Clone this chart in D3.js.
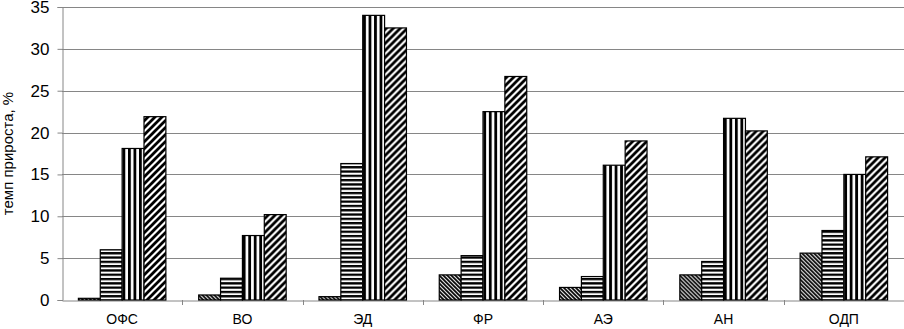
<!DOCTYPE html>
<html>
<head>
<meta charset="utf-8">
<script src="https://cdn.jsdelivr.net/npm/d3@7"></script>
<style>
  body { margin: 0; background: #fff; }
  svg { display: block; font-family: "Liberation Sans", Arial, sans-serif; }
</style>
</head>
<body>
<div id="chart"></div>
<script>
// Categories and series values
const categories = ["ОФС", "ВО", "ЭД", "ФР", "АЭ", "АН", "ОДП"];
const seriesNames = ["s1", "s2", "s3", "s4"];
const s1 = [0.2, 0.6, 0.4, 3.0, 1.5, 3.0, 5.6];
const s2 = [6.0, 2.6, 16.3, 5.3, 2.8, 4.6, 8.3];
const s3 = [18.1, 7.7, 34.0, 22.5, 16.1, 21.7, 15.0];
const s4 = [21.9, 10.2, 32.5, 26.7, 19.0, 20.2, 17.1];
const yTicks = [0, 5, 10, 15, 20, 25, 30, 35];
const yTitle = "темп прироста, %";

const seriesValues = [s1, s2, s3, s4];
const data = categories.map((c, i) => ({
    cat: c,
    vals: seriesNames.map((s, j) => ({ s: s, v: seriesValues[j][i] }))
}));

// Margins and dimensions
const W = 904, H = 329;
const margin = { top: 7, right: 0, bottom: 29, left: 62 };
const width = W - margin.left - margin.right;
const height = H - margin.top - margin.bottom;

const svgRoot = d3.select("#chart")
    .append("svg")
    .attr("width", W)
    .attr("height", H);

// Patterns for the four series
const defs = svgRoot.append("defs");

function pattern(id, w, h, draw) {
    const p = defs.append("pattern")
        .attr("id", id)
        .attr("patternUnits", "userSpaceOnUse")
        .attr("width", w)
        .attr("height", h);
    p.append("rect").attr("width", w).attr("height", h).attr("fill", "#fff");
    draw(p);
}

// s1: narrow "\\\" diagonal
pattern("p1", 4, 4, p => {
    p.append("path")
        .attr("d", "M-1,-1 L5,5 M-1,3 L1,5 M3,-1 L5,1")
        .attr("stroke", "#000").attr("stroke-width", 1.8);
});
// s2: horizontal stripes
pattern("p2", 4, 4.3, p => {
    p.append("rect").attr("x", 0).attr("y", 0).attr("width", 4).attr("height", 2.3).attr("fill", "#000");
});
// s3: vertical stripes
pattern("p3", 5.5, 4, p => {
    p.append("rect").attr("x", 0).attr("y", 0).attr("width", 2.8).attr("height", 4).attr("fill", "#000");
});
// s4: wide "///" diagonal
pattern("p4", 7, 7, p => {
    p.append("path")
        .attr("d", "M-1,8 L8,-1 M-1,1 L1,-1 M6,8 L8,6")
        .attr("stroke", "#000").attr("stroke-width", 2.8);
});

const fills = { s1: "url(#p1)", s2: "url(#p2)", s3: "url(#p3)", s4: "url(#p4)" };

const svg = svgRoot.append("g")
    .attr("transform", `translate(${margin.left},${margin.top})`);

// Scales
const x0 = d3.scaleBand()
    .domain(categories)
    .range([0, width])
    .padding(0);

const x1 = d3.scaleBand()
    .domain(seriesNames)
    .range([0, x0.bandwidth()])
    .paddingInner(0)
    .paddingOuter(0.75);

const y = d3.scaleLinear()
    .domain([0, 35])
    .range([height, 0]);

// Gridlines
svg.append("g")
    .selectAll("line")
    .data(yTicks.filter(d => d > 0))
    .enter()
    .append("line")
    .attr("x1", 0)
    .attr("x2", width)
    .attr("y1", d => Math.round(y(d)) + 0.5)
    .attr("y2", d => Math.round(y(d)) + 0.5)
    .attr("stroke", "#868686")
    .attr("stroke-width", 1);

// Y axis
const yAxis = svg.append("g")
    .attr("transform", "translate(0.5,0)")
    .call(d3.axisLeft(y).tickValues(yTicks).tickSize(5).tickPadding(8).tickFormat(d3.format("d")));
yAxis.select(".domain").attr("stroke", "#868686");
yAxis.selectAll(".tick line").attr("stroke", "#868686");
yAxis.selectAll("text")
    .attr("font-size", 17)
    .attr("font-family", "Liberation Sans, Arial, sans-serif")
    .attr("fill", "#000");

// X axis
const xAxis = svg.append("g")
    .attr("transform", `translate(0,${Math.round(height) + 0.5})`)
    .call(d3.axisBottom(x0).tickSize(0).tickPadding(14));
xAxis.select(".domain").attr("stroke", "#868686");
xAxis.selectAll("text")
    .attr("font-size", 14)
    .attr("font-family", "Liberation Sans, Arial, sans-serif")
    .attr("fill", "#000");

// category separators on x axis
svg.append("g")
    .selectAll("line")
    .data(categories.slice(1))
    .enter()
    .append("line")
    .attr("x1", d => Math.round(x0(d)) + 0.5)
    .attr("x2", d => Math.round(x0(d)) + 0.5)
    .attr("y1", height)
    .attr("y2", height + 5)
    .attr("stroke", "#868686");

// Bars
const groups = svg.selectAll(".grp")
    .data(data)
    .enter()
    .append("g")
    .attr("class", "grp")
    .attr("transform", d => `translate(${x0(d.cat)},0)`);

groups.selectAll("rect")
    .data(d => d.vals)
    .enter()
    .append("rect")
    .attr("x", d => x1(d.s))
    .attr("y", d => y(d.v))
    .attr("width", x1.bandwidth())
    .attr("height", d => y(0) - y(d.v))
    .attr("fill", d => fills[d.s])
    .attr("stroke", "#000")
    .attr("stroke-width", 1.2);

// Y title
svgRoot.append("text")
    .attr("transform", `translate(13,${margin.top + height / 2}) rotate(-90)`)
    .attr("text-anchor", "middle")
    .attr("font-size", 15)
    .attr("fill", "#000")
    .text(yTitle);
</script>
</body>
</html>
